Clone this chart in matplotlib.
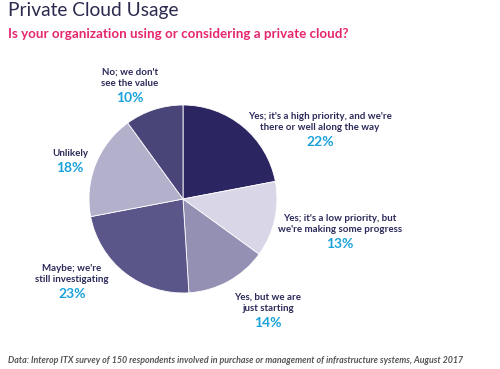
import matplotlib
matplotlib.use("Agg")
import matplotlib.pyplot as plt

categories = [
    "Yes; it's a high priority, and we're\nthere or well along the way",
    "Yes; it's a low priority, but\nwe're making some progress",
    "Yes, but we are\njust starting",
    "Maybe; we're\nstill investigating",
    "Unlikely",
    "No; we don't\nsee the value",
]
values = [22, 13, 14, 23, 18, 10]
colors = ["#2B2562", "#D9D7E7", "#9390B3", "#5B5689", "#B2B0CB", "#4A4579"]
# label anchor positions in pixels (center x, top y)
label_pos = [(320, 112), (340, 214), (268, 293), (72, 264), (70, 149), (130, 68)]

W, H = 500, 369
fig = plt.figure(figsize=(W / 100, H / 100), dpi=100)
fig.patch.set_facecolor("white")
plt.rcParams['font.family'] = ['Lato', 'DejaVu Sans']

cx, cy, r = 183, 199, 94
ax = fig.add_axes([(cx - r) / W, (H - cy - r) / H, 2 * r / W, 2 * r / H])
ax.pie(values, colors=colors, startangle=90, counterclock=False,
       wedgeprops=dict(linewidth=0.6, edgecolor="white"))
ax.set_aspect("equal")
ax.set_xlim(-1, 1)
ax.set_ylim(-1, 1)

for cat, v, (x, y) in zip(categories, values, label_pos):
    nlines = cat.count("\n") + 1
    fig.text(x / W, 1 - y / H, cat, ha="center", va="top", fontsize=7,
             fontweight="bold", color="#2B2A5A", linespacing=1.25)
    fig.text(x / W, 1 - (y + 11.5 * nlines + 1) / H, f"{v}%", ha="center", va="top",
             fontsize=10, fontweight="bold", color="#1BA2DA")

fig.text(8 / W, 1 - 2 / H, "Private Cloud Usage", ha="left", va="top",
         fontsize=13.8, color="#2B2A4F")
fig.text(8 / W, 1 - 28 / H, "Is your organization using or considering a private cloud?",
         ha="left", va="top", fontsize=9.6, fontweight="bold", color="#E5256E")
fig.text(8 / W, 1 - 356 / H,
         "Data: Interop ITX survey of 150 respondents involved in purchase or management of infrastructure systems, August 2017",
         ha="left", va="top", fontsize=6.4, fontweight="bold", style="italic", color="#555555")

fig.savefig("out.png", dpi=100)
